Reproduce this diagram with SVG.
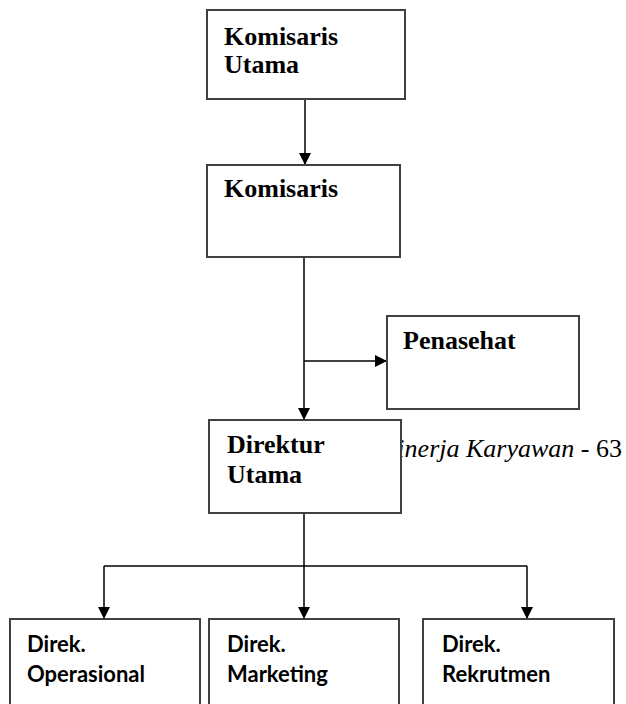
<svg xmlns="http://www.w3.org/2000/svg" width="626" height="704" viewBox="0 0 626 704">
<defs>
<marker id="ah" viewBox="0 0 12 12" refX="12" refY="6" markerWidth="12" markerHeight="12" markerUnits="userSpaceOnUse" orient="auto">
<path d="M0,0 L12,6 L0,12 Z" fill="#000"/>
</marker>
<style>
.box{fill:#fff;stroke:#404040;stroke-width:2}
.tnr{font-family:"Liberation Serif","Times New Roman",serif;font-weight:bold;font-size:26px;fill:#000}
.cal{font-family:Lato,"Liberation Sans",sans-serif;font-weight:bold;font-size:22px;fill:#000}
.ln{fill:none;stroke:#000;stroke-width:1.5}
</style>
</defs>
<rect width="626" height="704" fill="#fff"/>
<text x="622" y="457" text-anchor="end" font-family="'Liberation Serif','Times New Roman',serif" font-size="26" fill="#000"><tspan font-style="italic">Kinerja Karyawan</tspan> - 63</text>
<g id="connectors">
<line class="ln" x1="305" y1="99" x2="305" y2="165" marker-end="url(#ah)"/>
<line class="ln" x1="304" y1="257" x2="304" y2="420" marker-end="url(#ah)"/>
<line class="ln" x1="304" y1="361" x2="387" y2="361" marker-end="url(#ah)"/>
<line class="ln" x1="304" y1="513" x2="304" y2="566"/>
<polyline class="ln" points="104,566 527,566"/>
<line class="ln" x1="104" y1="566" x2="104" y2="619" marker-end="url(#ah)"/>
<line class="ln" x1="304" y1="566" x2="304" y2="619" marker-end="url(#ah)"/>
<line class="ln" x1="527" y1="566" x2="527" y2="619" marker-end="url(#ah)"/>
</g>
<g id="komisaris-utama">
<rect class="box" x="207" y="10" width="198" height="89"/>
<text class="tnr" x="224" y="45">Komisaris</text>
<text class="tnr" x="224" y="73">Utama</text>
</g>
<g id="komisaris">
<rect class="box" x="207" y="165" width="193" height="92"/>
<text class="tnr" x="224" y="197">Komisaris</text>
</g>
<g id="penasehat">
<rect class="box" x="387" y="316" width="192" height="93"/>
<text class="tnr" x="403" y="349">Penasehat</text>
</g>
<g id="direktur-utama">
<rect class="box" x="209" y="420" width="192" height="93"/>
<text class="tnr" x="227" y="453">Direktur</text>
<text class="tnr" x="227" y="483">Utama</text>
</g>
<g id="direk-operasional">
<rect class="box" x="10" y="619" width="190" height="100"/>
<text class="cal" x="27" y="652">Direk.</text>
<text class="cal" x="27" y="682">Operasional</text>
</g>
<g id="direk-marketing">
<rect class="box" x="209" y="619" width="190" height="100"/>
<text class="cal" x="227" y="652">Direk.</text>
<text class="cal" x="227" y="682">Marketing</text>
</g>
<g id="direk-rekrutmen">
<rect class="box" x="423" y="619" width="191" height="100"/>
<text class="cal" x="442" y="652">Direk.</text>
<text class="cal" x="442" y="682">Rekrutmen</text>
</g>
</svg>
